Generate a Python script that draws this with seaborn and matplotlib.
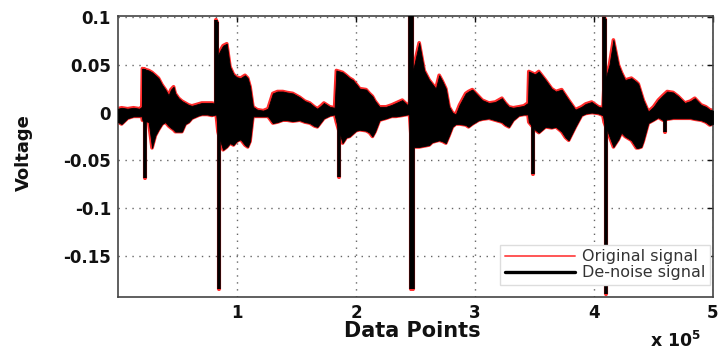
import matplotlib
matplotlib.use("Agg")
import numpy as np
import pandas as pd
import seaborn as sns
import matplotlib.pyplot as plt
from matplotlib.lines import Line2D

# ---- data (envelope of the dense signal) ----
sample_x = [0, 3000, 8000, 13000, 18000, 20000, 20500, 25800, 28600, 31400,
            34000, 37000, 39800, 42500, 44500, 46700, 48100, 50900, 53700, 56500,
            59300, 62100, 67600, 70400, 75000, 78800, 82500, 84000, 86000, 88300,
            91400, 94100, 97000, 99700, 103000, 106700, 109000, 111000, 113400, 117000,
            122000, 126000, 130100, 134000, 138500, 142000, 146900, 152700, 157000, 161100,
            165000, 167500, 170500, 173000, 178000, 182000, 183500, 188700, 191800, 194600,
            197300, 200000, 203100, 208500, 211300, 213800, 216000, 219700, 225300, 230000,
            233600, 238900, 243100, 245000, 246500, 249000, 253100, 257300, 261500, 264000,
            267100, 269900, 272500, 275500, 278200, 281000, 283800, 287000, 292200, 294500,
            297700, 303000, 306100, 311700, 317000, 322600, 325500, 328500, 332000, 336800,
            341000, 344500, 345200, 350500, 353600, 359200, 364400, 368000, 372800, 376000,
            378700, 381500, 384300, 389500, 393000, 398000, 403800, 407500, 408500, 413000,
            416300, 420500, 423000, 426100, 431400, 435600, 437200, 439700, 441400, 445600,
            450000, 454000, 458000, 461500, 466500, 470700, 476300, 481000, 484700, 490000,
            494000, 497200, 500000]
upper_v = [0.004, 0.005, 0.004, 0.005, 0.004, 0.006, 0.046, 0.044, 0.042, 0.039,
           0.036, 0.029, 0.024, 0.018, 0.024, 0.027, 0.020, 0.015, 0.012, 0.010,
           0.008, 0.007, 0.009, 0.010, 0.010, 0.010, 0.009, 0.060, 0.065, 0.070,
           0.072, 0.048, 0.040, 0.037, 0.036, 0.039, 0.036, 0.027, 0.006, 0.003,
           0.002, 0.004, 0.020, 0.022, 0.022, 0.021, 0.020, 0.016, 0.012, 0.010,
           0.006, 0.004, 0.007, 0.010, 0.006, 0.005, 0.044, 0.042, 0.039, 0.036,
           0.034, 0.030, 0.025, 0.024, 0.020, 0.017, 0.012, 0.006, 0.006, 0.008,
           0.010, 0.013, 0.008, 0.010, 0.040, 0.050, 0.073, 0.044, 0.034, 0.030,
           0.025, 0.039, 0.033, 0.025, 0.006, 0.000, -0.002, 0.008, 0.020, 0.022,
           0.024, 0.017, 0.013, 0.010, 0.011, 0.015, 0.010, 0.006, 0.005, 0.006,
           0.007, 0.010, 0.043, 0.040, 0.043, 0.034, 0.025, 0.022, 0.024, 0.018,
           0.013, 0.008, 0.003, 0.006, 0.009, 0.011, 0.006, 0.005, 0.030, 0.050,
           0.076, 0.050, 0.042, 0.034, 0.036, 0.032, 0.030, 0.020, 0.013, 0.001,
           0.006, 0.013, 0.018, 0.022, 0.021, 0.017, 0.010, 0.012, 0.015, 0.008,
           0.006, 0.003, 0.002]
lower_v = [-0.010, -0.012, -0.006, -0.004, -0.004, -0.004, -0.008, -0.010, -0.037, -0.024,
           -0.018, -0.012, -0.010, -0.014, -0.016, -0.018, -0.020, -0.020, -0.020, -0.012,
           -0.010, -0.006, -0.003, -0.002, -0.002, -0.003, -0.002, -0.020, -0.030, -0.039,
           -0.036, -0.032, -0.034, -0.030, -0.028, -0.034, -0.036, -0.030, -0.004, -0.004,
           -0.004, -0.004, -0.011, -0.010, -0.008, -0.008, -0.009, -0.008, -0.010, -0.011,
           -0.014, -0.015, -0.010, -0.006, -0.003, -0.002, -0.010, -0.032, -0.026, -0.025,
           -0.022, -0.019, -0.018, -0.019, -0.021, -0.025, -0.020, -0.008, -0.006, -0.004,
           -0.004, -0.003, -0.002, -0.002, -0.030, -0.036, -0.036, -0.035, -0.034, -0.031,
           -0.030, -0.029, -0.030, -0.032, -0.024, -0.015, -0.012, -0.012, -0.013, -0.015,
           -0.012, -0.008, -0.007, -0.006, -0.008, -0.010, -0.013, -0.015, -0.008, -0.003,
           -0.002, -0.002, -0.010, -0.018, -0.021, -0.015, -0.016, -0.015, -0.020, -0.026,
           -0.029, -0.022, -0.015, -0.003, -0.001, 0.000, -0.001, -0.003, -0.010, -0.025,
           -0.036, -0.028, -0.021, -0.025, -0.029, -0.037, -0.037, -0.036, -0.030, -0.011,
           -0.008, -0.005, -0.008, -0.007, -0.006, -0.006, -0.006, -0.006, -0.007, -0.008,
           -0.010, -0.013, -0.012]

# tall single-sample spikes (onset of each burst)
spike_x = [21800, 22800, 82600, 83400, 84500, 185800,
           245200, 246000, 246800, 247600, 348800,
           408600, 409400, 410200, 459600]
spike_v = [0.046, -0.069, 0.097, 0.095, -0.185, -0.067,
           0.105, -0.185, 0.105, -0.185, -0.064,
           0.100, 0.098, -0.190, -0.020]

x_ticks = [100000, 200000, 300000, 400000, 500000]
x_tick_labels = ["1", "2", "3", "4", "5"]
y_ticks = [-0.15, -0.1, -0.05, 0, 0.05, 0.1]
y_tick_labels = ["-0.15", "-0.1", "-0.05", "0", "0.05", "0.1"]
series_names = ["Original signal", "De-noise signal"]

# ---- figure ----
sns.set_theme(style="white")
plt.rcParams["font.family"] = ["DejaVu Sans"]

RED = "#ff2a2a"
fig = plt.figure(figsize=(7.26, 3.52), dpi=100)
ax = fig.add_axes([118 / 726, 1 - 297 / 352, 595 / 726, 281 / 352])

df = pd.DataFrame({"x": sample_x, "upper": upper_v, "lower": lower_v})

# original signal (red) drawn behind
sns.lineplot(data=df, x="x", y="upper", ax=ax, color=RED, lw=2.6,
             estimator=None, sort=False, zorder=2)
sns.lineplot(data=df, x="x", y="lower", ax=ax, color=RED, lw=2.6,
             estimator=None, sort=False, zorder=2)
ax.vlines(spike_x, 0, spike_v, colors=RED, lw=3.0, capstyle="round", zorder=2)

# de-noised signal (black) on top
ax.fill_between(df["x"], df["lower"], df["upper"], facecolor="black",
                edgecolor="black", lw=0.6, zorder=3)
ax.vlines(spike_x, 0, spike_v, colors="black", lw=2.6, capstyle="butt", zorder=3)

ax.set_xlim(0, 500000)
ax.set_ylim(-0.193, 0.101)
ax.set_xticks(x_ticks)
ax.set_xticklabels(x_tick_labels)
ax.set_yticks(y_ticks)
ax.set_yticklabels(y_tick_labels)
ax.tick_params(direction="in", length=4, width=1, top=True, right=True,
               labelsize=12, pad=5, colors="#111111")
for lbl in ax.get_xticklabels() + ax.get_yticklabels():
    lbl.set_fontweight("bold")

ax.grid(True, ls=(0, (1, 4)), color="#666666", lw=1.0)
ax.set_axisbelow(True)
for sp in ax.spines.values():
    sp.set_color("#444444")
    sp.set_linewidth(1.2)

ax.set_xlabel("Data Points", fontsize=15, fontweight="bold", color="#111111")
ax.xaxis.set_label_coords((412 - 118) / 595, (297 - 331) / 281)
ax.xaxis.label.set_verticalalignment("center")
ax.set_ylabel("Voltage", fontsize=13, fontweight="bold", color="#111111")
ax.yaxis.set_label_coords((24 - 118) / 595, (297 - 153) / 281)
ax.yaxis.label.set_verticalalignment("center")

fig.text(650 / 726, 1 - 341 / 352, r"x 10$^{\mathbf{5}}$", fontsize=12.5,
         fontweight="bold", ha="left", va="center", color="#111111")

handles = [Line2D([], [], color="#ff5555", lw=1.4), Line2D([], [], color="black", lw=2.4)]
leg = ax.legend(handles, series_names, loc="lower right",
                bbox_to_anchor=((710 - 118) / 595, (297 - 285) / 281),
                borderaxespad=0, fontsize=11.5, handlelength=4.4, handletextpad=0.4,
                labelspacing=0.05, borderpad=0.3, fancybox=False, framealpha=1,
                edgecolor="#dddddd")
leg.set_zorder(5)
for t in leg.get_texts():
    t.set_color("#333333")

fig.savefig("out.png", dpi=100)
